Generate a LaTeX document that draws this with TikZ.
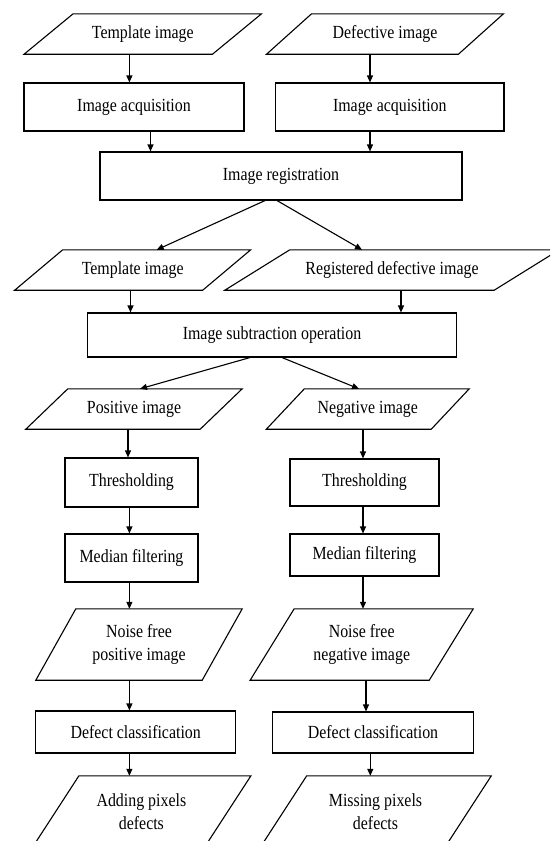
\documentclass[tikz,border=0pt]{standalone}
\usepackage{fontspec}
\setmainfont{Liberation Serif}[FakeStretch=0.86]
\usetikzlibrary{arrows.meta}
\tikzset{
  shp/.style={draw=black, line width=1.1pt, line join=miter},
  boxn/.style={shp, rectangle, inner sep=0pt, align=center, font={\fontsize{18.5}{23}\selectfont}},
  ptxt/.style={rectangle, inner sep=0pt, align=center, font={\fontsize{18.5}{23}\selectfont}},
  arr/.style={draw=black, line width=1.1pt, -{Triangle[length=7pt,width=6pt]}}
}
\newcommand{\pnode}[7]{%
  \node[ptxt, minimum width=#4pt, minimum height=#5pt] (#1) at (#2,#3) {#7};
  \draw[shp] ([xshift=#6pt]#1.north west) -- ([xshift=#6pt]#1.north east) -- ([xshift=-#6pt]#1.south east) -- ([xshift=-#6pt]#1.south west) -- cycle;}
\begin{document}
\begin{tikzpicture}[x=1pt,y=-1pt]
\useasboundingbox (0,0) rectangle (550,841);
\fill[white] (0,0) rectangle (550,841);
\clip (0,0) rectangle (550,841);

% row 1
\pnode{tmplA}{142.8}{34}{188}{40}{24.5}{Template image}
\pnode{defA}{385}{34}{191.5}{40}{22.5}{Defective image}
\node[boxn, minimum width=220pt, minimum height=48pt] (acqL) at (134,107) {Image acquisition};
\node[boxn, minimum width=228.4pt, minimum height=48pt] (acqR) at (389.8,107) {Image acquisition};
\node[boxn, minimum width=362pt, minimum height=48pt] (reg) at (281,176) {Image registration};

\pnode{tmplB}{132.7}{270}{187.6}{40}{24}{Template image}
\pnode{regdef}{392}{270}{269}{40}{32.5}{Registered defective image}
\node[boxn, minimum width=369.3pt, minimum height=44pt] (sub) at (272,335) {Image subtraction operation};

\pnode{pos}{134}{409}{174}{40}{21}{Positive image}
\pnode{neg}{367.8}{409}{164.5}{40}{19}{Negative image}

\node[boxn, minimum width=133pt, minimum height=49pt] (thrL) at (131.5,482.5) {Thresholding};
\node[boxn, minimum width=149pt, minimum height=47pt] (thrR) at (364.5,482.5) {Thresholding};
\node[boxn, minimum width=133pt, minimum height=48pt] (medL) at (131.5,558) {Median filtering};
\node[boxn, minimum width=149pt, minimum height=42pt] (medR) at (364.5,555) {Median filtering};

\pnode{nfL}{139}{644.5}{166}{71}{20}{Noise free\\positive image}
\pnode{nfR}{361.7}{644.5}{178.7}{71}{22}{Noise free\\negative image}

\node[boxn, minimum width=199.8pt, minimum height=42pt] (defL) at (135.7,732) {Defect classification};
\node[boxn, minimum width=201pt, minimum height=41pt] (defR) at (373,732.5) {Defect classification};

\pnode{addL}{141.4}{812}{171.6}{72}{23.5}{Adding pixels\\defects}
\pnode{missR}{375.5}{812}{184.2}{72}{23.5}{Missing pixels\\defects}

% connectors
\draw[arr] ([xshift=-13.4pt]tmplA.south) -- ([xshift=-13.4pt]tmplA.south |- acqL.north);
\draw[arr] ([xshift=-15pt]defA.south) -- ([xshift=-15pt]defA.south |- acqR.north);
\draw[arr] ([xshift=16.5pt]acqL.south) -- ([xshift=16.5pt]acqL.south |- reg.north);
\draw[arr] ([xshift=-19.8pt]acqR.south) -- ([xshift=-19.8pt]acqR.south |- reg.north);
\draw[arr] ([xshift=-16pt]reg.south) -- ([xshift=24pt]tmplB.north);
\draw[arr] ([xshift=-4pt]reg.south) -- ([xshift=-30pt]regdef.north);
\draw[arr] ([xshift=-2.2pt]tmplB.south) -- ([xshift=-2.2pt]tmplB.south |- sub.north);
\draw[arr] ([xshift=9pt]regdef.south) -- ([xshift=9pt]regdef.south |- sub.north);
\draw[arr] ([xshift=-22pt]sub.south) -- ([xshift=6pt]pos.north);
\draw[arr] ([xshift=10pt]sub.south) -- ([xshift=-8.8pt]neg.north);
\draw[arr] ([xshift=-6pt]pos.south) -- ([xshift=-6pt]pos.south |- thrL.north);
\draw[arr] ([xshift=-4.8pt]neg.south) -- ([xshift=-4.8pt]neg.south |- thrR.north);
\draw[arr] ([xshift=-2.1pt]thrL.south) -- ([xshift=-2.1pt]thrL.south |- medL.north);
\draw[arr] ([xshift=-1.5pt]thrR.south) -- ([xshift=-1.5pt]thrR.south |- medR.north);
\draw[arr] ([xshift=-2.1pt]medL.south) -- ([xshift=-2.1pt]medL.south |- nfL.north);
\draw[arr] ([xshift=-1.5pt]medR.south) -- ([xshift=-1.5pt]medR.south |- nfR.north);
\draw[arr] ([xshift=-9.6pt]nfL.south) -- ([xshift=-9.6pt]nfL.south |- defL.north);
\draw[arr] ([xshift=4.3pt]nfR.south) -- ([xshift=4.3pt]nfR.south |- defR.north);
\draw[arr] ([xshift=-6.3pt]defL.south) -- ([xshift=-6.3pt]defL.south |- addL.north);
\draw[arr] ([xshift=-2.7pt]defR.south) -- ([xshift=-2.7pt]defR.south |- missR.north);
\end{tikzpicture}
\end{document}
